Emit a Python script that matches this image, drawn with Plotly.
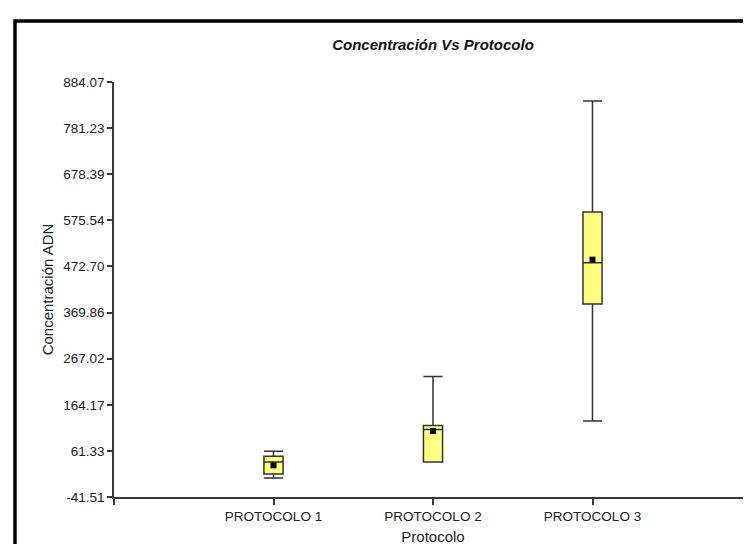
import plotly.graph_objects as go

protocols = ["PROTOCOLO 1", "PROTOCOLO 2", "PROTOCOLO 3"]
positions = [1, 2, 3]
q_min = [0.9, 36.6, 128.0]
q1 = [9.8, 36.6, 388.9]
median = [36.6, 109.0, 481.1]
q3 = [49.3, 117.9, 594.1]
q_max = [60.4, 227.0, 841.7]
mean = [29.2, 105.7, 487.8]

y_ticks = [-41.51, 61.33, 164.17, 267.02, 369.86, 472.70, 575.54, 678.39, 781.23, 884.07]
x_ticks = [0, 1, 2, 3, 4]
x_ticktext = [""] + protocols + [""]

FONT = "Liberation Sans, Arial, sans-serif"
AX = "#3a3a3a"
TXT = "#222222"

fig = go.Figure()
fig.add_trace(go.Box(
    x=positions, q1=q1, median=median, q3=q3,
    lowerfence=q_min, upperfence=q_max,
    width=0.12, whiskerwidth=1,
    fillcolor="#FFFF80",
    line=dict(color="#333333", width=1.5),
    boxpoints=False, showlegend=False, hoverinfo="skip",
))
fig.add_trace(go.Scatter(
    x=positions, y=mean, mode="markers",
    marker=dict(symbol="square", size=6, color="black"),
    showlegend=False, hoverinfo="skip",
))

fig.update_layout(
    width=751, height=544,
    margin=dict(l=106, r=7, t=74, b=55),
    paper_bgcolor="white", plot_bgcolor="white",
    font=dict(family=FONT, color=TXT),
    title=dict(text="<b><i>Concentración Vs Protocolo</i></b>",
               x=0.5, xref="paper", y=1 - 37 / 544, yref="container",
               xanchor="center", yanchor="middle",
               font=dict(size=15, family=FONT, color="#111111")),
    xaxis=dict(
        range=[0, 4], tickmode="array", tickvals=x_ticks, ticktext=x_ticktext,
        showgrid=False, zeroline=False, showline=True, linecolor=AX, linewidth=1.5,
        ticks="outside", ticklen=6, tickcolor=AX, tickwidth=1.5,
        tickfont=dict(size=13.5, family=FONT, color=TXT),
        title=dict(text="Protocolo", font=dict(size=15, family=FONT, color=TXT), standoff=9),
    ),
    yaxis=dict(
        range=[-41.51, 884.07], tickmode="array", tickvals=y_ticks,
        ticktext=[f"{v:.2f}" for v in y_ticks],
        showgrid=False, zeroline=False, showline=True, linecolor=AX, linewidth=1.5,
        ticks="outside", ticklen=5, tickcolor=AX, tickwidth=1.5,
        tickfont=dict(size=13.5, family=FONT, color=TXT),
        title=dict(text="Concentración ADN", font=dict(size=15, family=FONT, color=TXT), standoff=6),
    ),
    shapes=[dict(type="rect", xref="paper", yref="paper",
                 x0=(7 - 106) / 638, x1=1.05, y0=-0.3, y1=(489 - 13) / 415,
                 line=dict(color="black", width=3.5), fillcolor="rgba(0,0,0,0)", layer="below")],
)

fig.write_html("out.html")
